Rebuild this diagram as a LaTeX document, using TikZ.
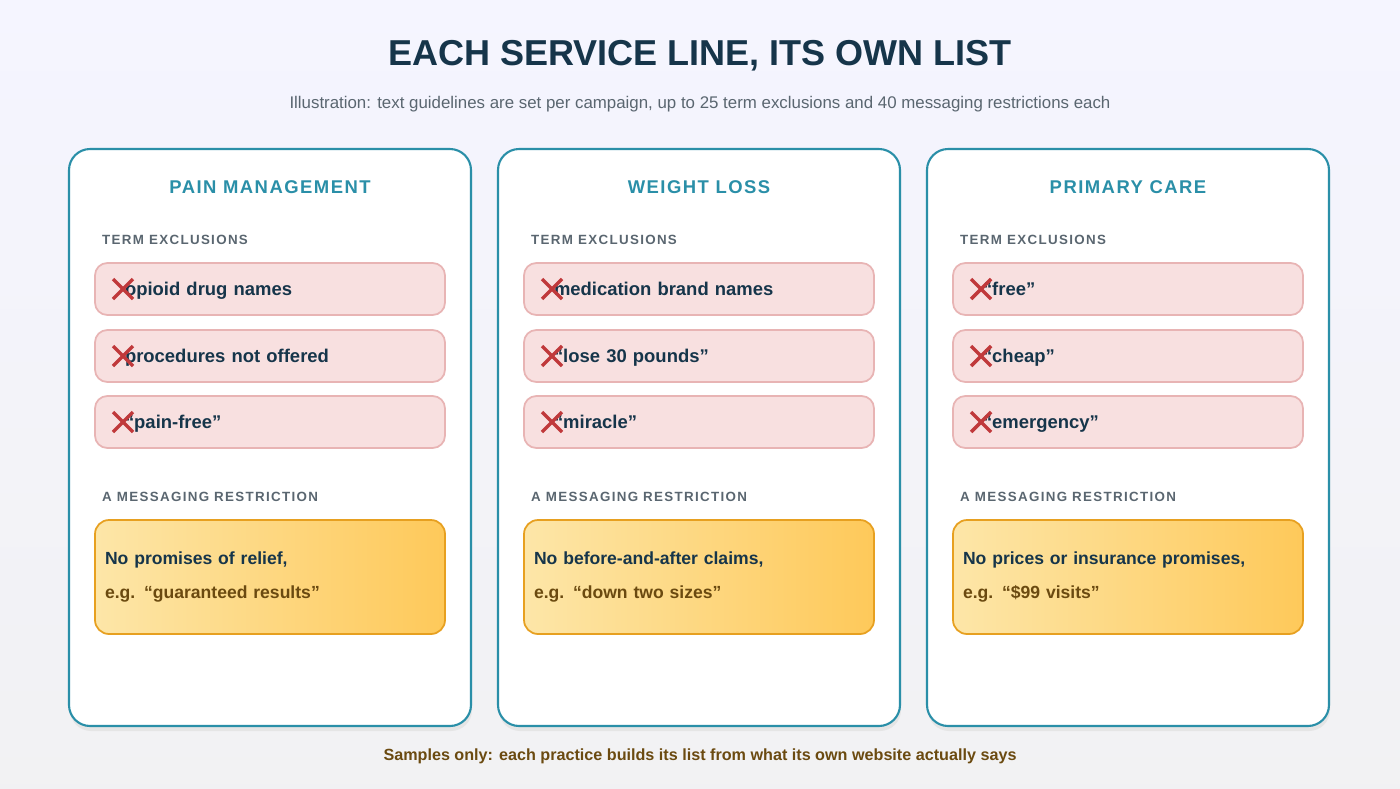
\documentclass[tikz,border=0pt]{standalone}
\usepackage{fontspec}
\setmainfont{Liberation Sans}
\usetikzlibrary{positioning}
\definecolor{navy}{HTML}{16354A}
\definecolor{teal}{HTML}{2A8FA8}
\definecolor{slate}{HTML}{5A6670}
\definecolor{exfill}{HTML}{F8E0E0}
\definecolor{exline}{HTML}{E8B4B4}
\definecolor{cross}{HTML}{C0393B}
\definecolor{rsleft}{HTML}{FDE6A8}
\definecolor{rsright}{HTML}{FEC95A}
\definecolor{rsline}{HTML}{E7A020}
\definecolor{brown}{HTML}{6B4A10}
\begin{document}
\begin{tikzpicture}[x=0.02cm, y=-0.02cm]
    \tikzstyle{card} = [draw=teal, line width=1.2pt, fill=white, rounded corners=12pt]
    \tikzstyle{head} = [text=teal, font=\fontsize{10.5}{12}\selectfont\bfseries\addfontfeatures{LetterSpace=8}]
    \tikzstyle{sect} = [text=slate, anchor=west, font=\fontsize{7.6}{9}\selectfont\bfseries\addfontfeatures{LetterSpace=10}]
    \tikzstyle{excl} = [draw=exline, line width=1pt, fill=exfill, rounded corners=7pt, minimum width=350*0.02cm, minimum height=52*0.02cm, text width=290*0.02cm, align=left, text=navy, font=\fontsize{10.5}{12}\selectfont\bfseries, text depth=0pt, inner sep=0pt]
    \tikzstyle{restr} = [draw=rsline, line width=1pt, left color=rsleft, right color=rsright, rounded corners=8pt, minimum width=350*0.02cm, minimum height=114*0.02cm, text width=330*0.02cm, align=left, font=\fontsize{10}{19.5}\selectfont\bfseries, inner sep=0pt]
    \tikzstyle{xmark} = [draw=cross, line width=2pt]

    % Background
    \fill [top color=white!96!blue, bottom color=blue!6!gray!10] (0,0) rectangle (1400,788);

    % Title
    \node [text=navy, font=\fontsize{20.5}{24}\selectfont\bfseries] (title) at (700,56) {EACH SERVICE LINE, ITS OWN LIST};
    \node [text=slate, font=\fontsize{9.6}{11}\selectfont, below=0.25cm of title] (subtitle) {Illustration: text guidelines are set per campaign, up to 25 term exclusions and 40 messaging restrictions each};

    % Cards
    \foreach \i/\x/\hd/\ea/\eb/\ec/\ra/\rb in {
        1/69/PAIN MANAGEMENT/opioid drug names/procedures not offered/“pain-free”/{No promises of relief,}/e.g. “guaranteed results”,
        2/498/WEIGHT LOSS/medication brand names/“lose 30 pounds”/“miracle”/{No before-and-after claims,}/e.g. “down two sizes”,
        3/927/PRIMARY CARE/“free”/“cheap”/“emergency”/{No prices or insurance promises,}/e.g. “\$99 visits”} {
        \fill [black!10, rounded corners=12pt] (\x+1,152) rectangle (\x+403,731);
        \draw [card] (\x,149) rectangle (\x+402,726);
        \node [head] (head\i) at (\x+201,187) {\hd};
        \node [sect] (term\i) at (\x+27,240) {TERM EXCLUSIONS};
        \node [excl] (ex\i a) at (\x+201,289) {\ea};
        \node [excl] (ex\i b) at (\x+201,356) {\eb};
        \node [excl] (ex\i c) at (\x+201,422) {\ec};
        \foreach \y in {289,356,422} {
            \draw [xmark] (\x+44,\y-10) -- (\x+64,\y+10);
            \draw [xmark] (\x+44,\y+10) -- (\x+64,\y-10);
        }
        \node [sect] (msg\i) at (\x+27,497) {A MESSAGING RESTRICTION};
        \node [restr] (rs\i) at (\x+201,577) {\textcolor{navy}{\ra}\\\textcolor{brown}{\rb}};
    }

    % Footer
    \node [text=brown, font=\fontsize{9.2}{11}\selectfont\bfseries] (footer) at (700,756) {Samples only: each practice builds its list from what its own website actually says};
\end{tikzpicture}
\end{document}
